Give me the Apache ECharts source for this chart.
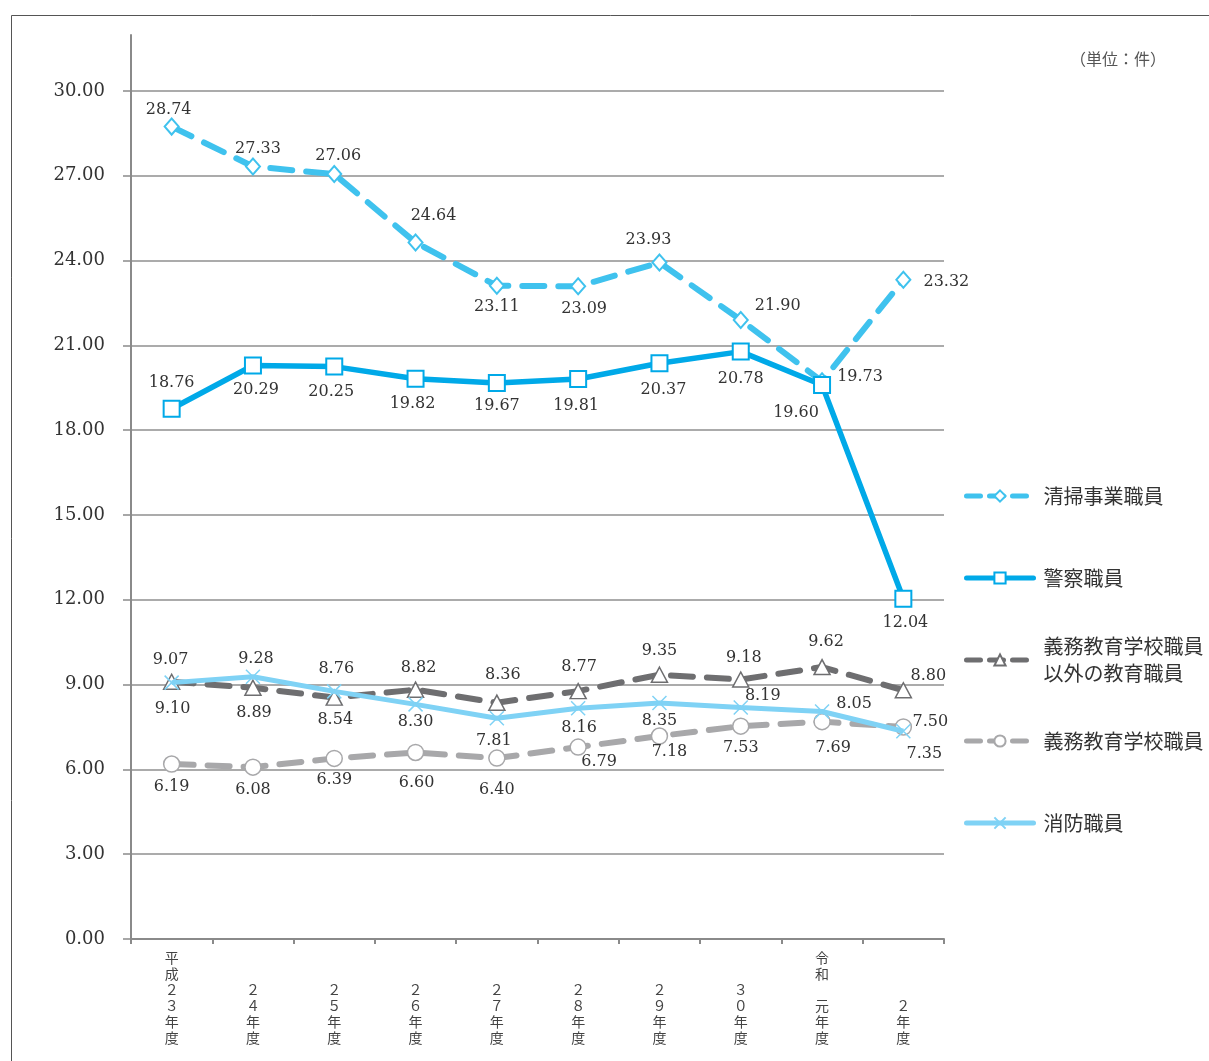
<!DOCTYPE html>
<html><head><meta charset="utf-8">
<script src="https://cdn.jsdelivr.net/npm/echarts@6/dist/echarts.min.js"></script>
<style>html,body{margin:0;padding:0;background:#fff}#c{width:1209px;height:1061px}</style>
</head><body><div id="c"></div>
<script>
// ---- data ----
const categories = ['平\n成\n２\n３\n年\n度','２\n４\n年\n度','２\n５\n年\n度','２\n６\n年\n度','２\n７\n年\n度','２\n８\n年\n度','２\n９\n年\n度','３\n０\n年\n度','令\n和\n\n元\n年\n度','２\n年\n度'];
const seriesNames = ['清掃事業職員','警察職員','義務教育学校職員\n以外の教育職員','義務教育学校職員','消防職員'];
const seisou   = [28.74,27.33,27.06,24.64,23.11,23.09,23.93,21.90,19.73,23.32];
const keisatsu = [18.76,20.29,20.25,19.82,19.67,19.81,20.37,20.78,19.60,12.04];
const gimuIgai = [9.10,8.89,8.54,8.82,8.36,8.77,9.35,9.18,9.62,8.80];
const gimu     = [6.19,6.08,6.39,6.60,6.40,6.79,7.18,7.53,7.69,7.50];
const shobo    = [9.07,9.28,8.76,8.30,7.81,8.16,8.35,8.19,8.05,7.35];
const yTicks = {min:0, max:30, interval:3};
const unitText = '（単位：件）';

// ---- label offsets (style, not data) ----
const offSeisou   = [[-3,-17],[5,-18],[4,-18],[18,-27],[0,21],[6,23],[-11,-23],[37,-14],[38,-4],[43,2]];
const offKeisatsu = [[0,-26],[3,24],[-3,25],[-3,25],[0,23],[-2,27],[4,27],[0,27],[-26,28],[2,24]];
const offGimuIgai = [[1,27],[1,25],[1,22],[3,-22],[6,-28],[1,-24],[0,-24],[3,-22],[4,-25],[25,-14]];
const offGimu     = [[0,23],[0,23],[0,21],[1,30],[0,32],[21,15],[10,16],[0,22],[11,26],[27,-5]];
const offShobo    = [[-1,-23],[3,-18],[2,-23],[0,17],[-3,23],[1,19],[0,18],[22,-12],[32,-8],[21,23]];

const serif = 'DejaVu Serif';
const jp = 'Noto Sans CJK JP';

function mk(vals, offs){
  return vals.map((v,i)=>({value:v, label:{offset:offs[i]}}));
}
const lbl = {show:true, position:'inside', align:'center', verticalAlign:'middle',
  fontFamily:serif, fontSize:16, color:'#333', formatter:p=>p.value.toFixed(2)};

const C1='#3fc2ee', C2='#00a9e8', C3='#6e6e70', C4='#a8a8aa', C5='#7fd2f5';
const colors = [C1,C2,C3,C4,C5];
const dashed = [true,false,true,true,false];
const crossPath = 'path://M0,0L10,10M10,0L0,10';

const chart = echarts.init(document.getElementById('c'), null, {renderer:'canvas'});
const legendTops = [496,578,660,741,823];
const legends = seriesNames.map((n,i)=>{
  const two = n.indexOf('\n')>=0;
  return {
    data:[n], left:964, top: two ? legendTops[i]-40.5 : legendTops[i]-13,
    padding:0, itemWidth:67, itemHeight:14, itemGap:0, selectedMode:false,
    lineStyle:{width:5, color:colors[i], type: dashed[i] ? [14,9] : 'solid', cap:'round'},
    textStyle: two ? {fontFamily:jp, fontSize:20, color:'#333', lineHeight:27, padding:[27,0,0,5]}
                   : {fontFamily:jp, fontSize:20, color:'#333', lineHeight:26, padding:[0,0,0,5]}
  };
});

chart.setOption({
  animation:false,
  backgroundColor:'#fff',
  graphic:[
    {type:'rect', shape:{x:11.5,y:15.5,width:1400,height:1200}, style:{fill:'none', stroke:'#555', lineWidth:1}, silent:true, z:-10},
    {type:'text', left:1070, top:51, style:{text:unitText, fontFamily:jp, fontSize:16, fill:'#555'}}
  ],
  legend: legends,
  grid:[
    {left:131, right:265, top:91, bottom:122},
    {left:131, right:265, top:35, bottom:122}
  ],
  xAxis:[
    {type:'category', data:categories, gridIndex:0, boundaryGap:true,
     axisLine:{lineStyle:{color:'#8a8a8a', width:2}},
     axisTick:{show:true, length:5, lineStyle:{color:'#8a8a8a', width:2}},
     axisLabel:{interval:0, margin:107, verticalAlign:'bottom', fontFamily:jp, fontSize:14, lineHeight:16, color:'#444'}},
    {type:'category', data:categories, gridIndex:1, show:false}
  ],
  yAxis:[
    {type:'value', gridIndex:0, min:yTicks.min, max:yTicks.max, interval:yTicks.interval,
     axisLine:{show:true, lineStyle:{color:'#8a8a8a', width:2}},
     axisTick:{show:true, length:8, lineStyle:{color:'#8a8a8a', width:1.5}},
     axisLabel:{margin:26, fontFamily:serif, fontSize:18, color:'#333', formatter:v=>v.toFixed(2)},
     splitLine:{show:true, lineStyle:{color:'#8f8f8f', width:1.5}}},
    {type:'value', gridIndex:1, min:0, max:1,
     axisLine:{show:true, lineStyle:{color:'#8a8a8a', width:2}},
     axisTick:{show:false}, axisLabel:{show:false}, splitLine:{show:false}}
  ],
  series:[
    {name:seriesNames[0], type:'line', data:mk(seisou,offSeisou), z:2,
     symbol:'diamond', symbolSize:[14,16], showAllSymbol:true,
     lineStyle:{color:C1, width:6, type:[22,14], cap:'round'},
     itemStyle:{color:'#fff', borderColor:C1, borderWidth:2}, label:lbl},
    {name:seriesNames[1], type:'line', data:mk(keisatsu,offKeisatsu), z:3,
     symbol:'rect', symbolSize:16,
     lineStyle:{color:C2, width:5.5},
     itemStyle:{color:'#fff', borderColor:C2, borderWidth:2}, label:lbl},
    {name:seriesNames[2], type:'line', data:mk(gimuIgai,offGimuIgai), z:4,
     symbol:'triangle', symbolSize:[16,15],
     lineStyle:{color:C3, width:6, type:[22,14], cap:'round'},
     itemStyle:{color:'#fff', borderColor:C3, borderWidth:1.5}, label:lbl},
    {name:seriesNames[3], type:'line', data:mk(gimu,offGimu), z:3,
     symbol:'circle', symbolSize:16,
     lineStyle:{color:C4, width:6, type:[22,14], cap:'round'},
     itemStyle:{color:'#fff', borderColor:C4, borderWidth:1.5}, label:lbl},
    {name:seriesNames[4], type:'line', data:mk(shobo,offShobo), z:5,
     symbol:crossPath, symbolSize:14,
     lineStyle:{color:C5, width:5},
     itemStyle:{color:'none', borderColor:C5, borderWidth:1.5}, label:lbl}
  ]
});
</script></body></html>
